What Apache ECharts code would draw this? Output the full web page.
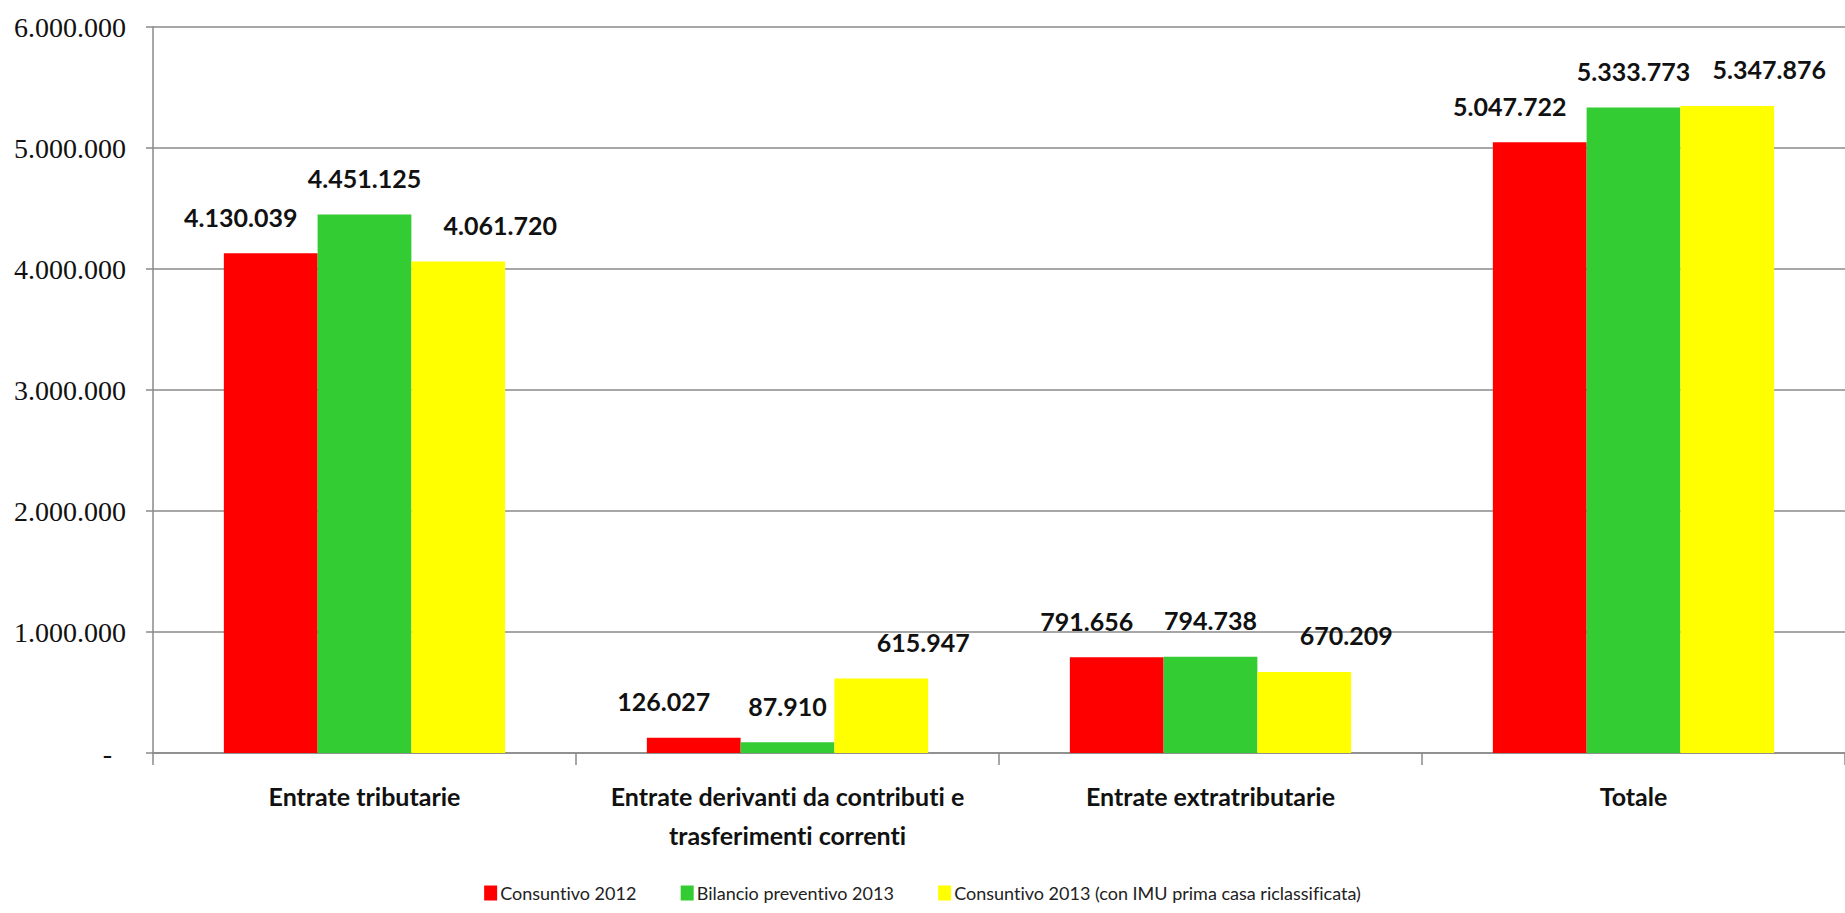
<!DOCTYPE html>
<html>
<head>
<meta charset="utf-8">
<script src="https://cdn.jsdelivr.net/npm/echarts@6/dist/echarts.min.js"></script>
<style>
html,body{margin:0;padding:0;background:#fff;}
#chart{width:1845px;height:913px;}
#chart svg text{font-variant-ligatures:none;font-feature-settings:"liga" 0, "clig" 0;}
</style>
</head>
<body>
<div id="chart"></div>
<script>
const categories = [
  "Entrate tributarie",
  "Entrate derivanti da contributi e\ntrasferimenti correnti",
  "Entrate extratributarie",
  "Totale"
];
const seriesNames = [
  "Consuntivo 2012",
  "Bilancio preventivo 2013",
  "Consuntivo 2013 (con IMU prima casa riclassificata)"
];
const consuntivo2012 = [4130039, 126027, 791656, 5047722];
const bilancioPreventivo2013 = [4451125, 87910, 794738, 5333773];
const consuntivo2013 = [4061720, 615947, 670209, 5347876];
const yTicks = [0, 1000000, 2000000, 3000000, 4000000, 5000000, 6000000];

const colors = ["#FF0000", "#33CC33", "#FFFF00"];
const labelDx = [-30, 0, 42];

function fmt(v) {
  if (v === 0) return "-";
  return String(Math.round(v)).replace(/\B(?=(\d{3})+(?!\d))/g, ".");
}

const chart = echarts.init(document.getElementById("chart"), null, {renderer: "svg"});
const values = [consuntivo2012, bilancioPreventivo2013, consuntivo2013];

chart.setOption({
  animation: false,
  backgroundColor: "#ffffff",
  grid: {left: 153, right: 0, top: 27, bottom: 160, containLabel: false},
  legend: {
    data: seriesNames,
    left: "center",
    top: 884,
    padding: 0,
    itemWidth: 13,
    itemHeight: 15,
    itemGap: 44,
    icon: "rect",
    textStyle: {fontFamily: "Lato", fontSize: 18, color: "#222", padding: [0, 0, 0, -2]}
  },
  xAxis: {
    type: "category",
    data: categories,
    axisLine: {lineStyle: {color: "#8a8a8a", width: 1.5}},
    axisTick: {show: true, interval: 0, length: 12, lineStyle: {color: "#8a8a8a", width: 1.5}},
    axisLabel: {
      interval: 0,
      fontFamily: "Lato", fontWeight: "bold", fontSize: 25, color: "#111",
      margin: 23, lineHeight: 39
    }
  },
  yAxis: {
    type: "value",
    min: yTicks[0],
    max: yTicks[yTicks.length - 1],
    interval: yTicks[1] - yTicks[0],
    axisLine: {show: true, lineStyle: {color: "#8a8a8a", width: 1.5}},
    axisTick: {show: true, length: 7, lineStyle: {color: "#8a8a8a", width: 1.5}},
    splitLine: {show: true, lineStyle: {color: "#8a8a8a", width: 1.5}},
    axisLabel: {
      fontFamily: "Liberation Serif", fontSize: 28, color: "#111", margin: 27,
      formatter: v => v === 0 ? "-  " : fmt(v)
    }
  },
  series: values.map((arr, i) => ({
    name: seriesNames[i],
    type: "bar",
    data: arr,
    barGap: "0%",
    barCategoryGap: "33.5%",
    itemStyle: {color: colors[i]},
    label: {
      show: true,
      position: "top",
      distance: 24,
      offset: [labelDx[i], 0],
      fontFamily: "Lato", fontWeight: "bold", fontSize: 25, color: "#111",
      formatter: p => fmt(p.value)
    }
  }))
});
</script>
</body>
</html>
